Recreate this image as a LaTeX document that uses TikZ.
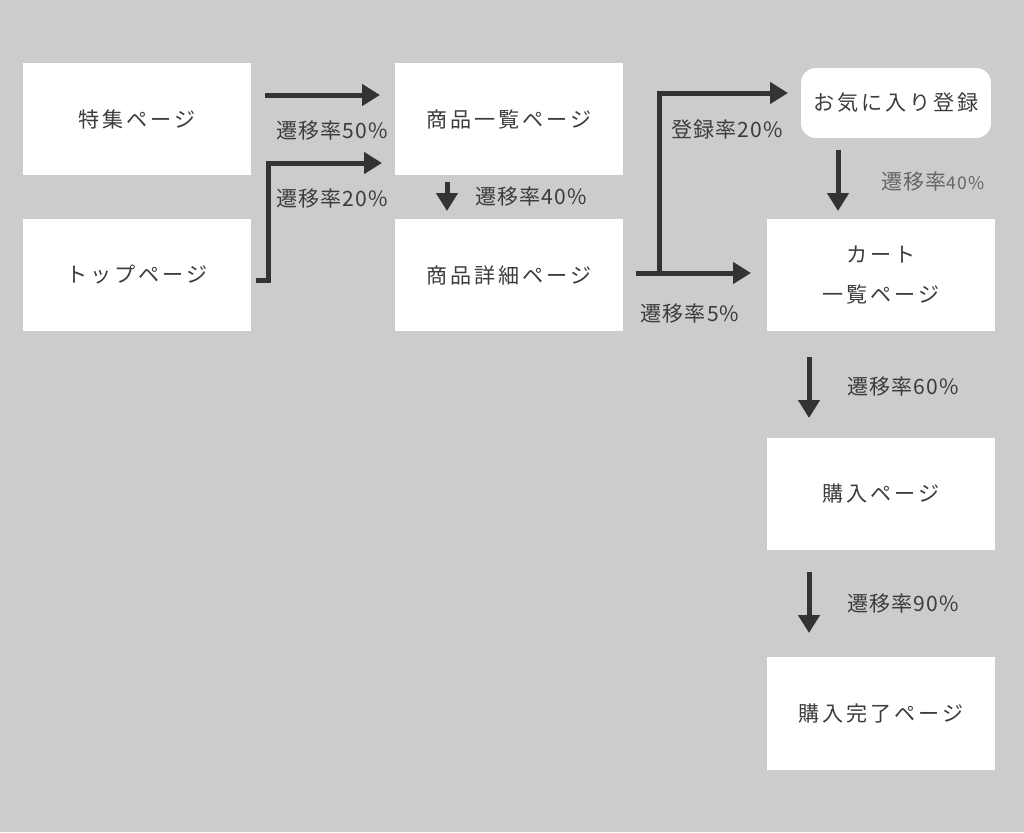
\documentclass[tikz,border=0pt]{standalone}
\usepackage{fontspec}
\setmainfont{Noto Sans CJK JP}
\newfontfamily\pagefont[LetterSpace=14]{Noto Sans CJK JP}
\newfontfamily\ratefont[LetterSpace=5]{Noto Sans CJK JP}
\usetikzlibrary{arrows.meta,positioning}
\definecolor{bggray}{RGB}{204,204,204}
\definecolor{inkgray}{RGB}{51,51,51}
\definecolor{textgray}{RGB}{60,60,60}

\begin{document}
\begin{tikzpicture}[x=0.02cm,y=-0.02cm,
    page/.style={rectangle,fill=white,minimum width=4.56cm,minimum height=2.26cm,inner sep=0pt,
                 align=center,text=textgray,font=\pagefont\fontsize{12}{22.7}\selectfont},
    fav/.style={page,rounded corners=0.3cm,minimum width=3.8cm,minimum height=1.4cm},
    rate/.style={inner sep=0pt,text=textgray,font=\ratefont\fontsize{12}{14}\selectfont},
    arrow/.style={-{Triangle[length=0.36cm,width=0.42cm]},line width=0.1cm,draw=inkgray}
]
    \fill[bggray] (0,0) rectangle (1024,832);
    \useasboundingbox (0,0) rectangle (1024,832);

    \node[page] (feature) at (137,119) {特集ページ};
    \node[page] (top) at (137,275) {トップページ};
    \node[page] (list) at (509,119) {商品一覧ページ};
    \node[page] (detail) at (509,275) {商品詳細ページ};
    \node[fav] (fav) at (896,103) {お気に入り登録};
    \node[page] (cart) at (881,275) {カート\\一覧ページ};
    \node[page] (buy) at (881,494) {購入ページ};
    \node[page] (done) at (881,713) {購入完了ページ};

    % arrow ends
    \coordinate (f50s) at (265,95);
    \coordinate (f50e) at (380,95);
    \coordinate (t20s) at (256,280);
    \coordinate (t20e) at (382,163);
    \coordinate (l40s) at (447,182);
    \coordinate (l40e) at (447,211);
    \coordinate (d5s) at (636,273);
    \coordinate (d5e) at (751,273);
    \coordinate (d20s) at (659,275);
    \coordinate (d20e) at (788,93);
    \coordinate (v40s) at (838,150);
    \coordinate (v40e) at (838,211);
    \coordinate (c60s) at (809,357);
    \coordinate (c60e) at (809,418);
    \coordinate (b90s) at (809,572);
    \coordinate (b90e) at (809,633);

    \draw[arrow] (f50s)--(f50e);
    \draw[arrow] (t20s)--++(12,0) |- (t20e);
    \draw[arrow] (l40s)--(l40e);
    \draw[arrow] (d5s)--(d5e);
    \draw[arrow] (d20s) |- (d20e);
    \draw[arrow] (v40s)--(v40e);
    \draw[arrow] (c60s)--(c60e);
    \draw[arrow] (b90s)--(b90e);

    \node[rate] (r50) at (332,131) {遷移率50\%};
    \node[rate] (r20) at (332,199) {遷移率20\%};
    \node[rate] (r40) at (531,197) {遷移率40\%};
    \node[rate] (reg20) at (727,130) {登録率20\%};
    \node[rate] (r5) at (690,314) {遷移率5\%};
    \node[rate,text=black!60] (fav40) at (933,182) {遷移率{\fontsize{10}{12}\selectfont 40\%}};
    \node[rate] (r60) at (903,387) {遷移率60\%};
    \node[rate] (r90) at (903,604) {遷移率90\%};
\end{tikzpicture}
\end{document}
